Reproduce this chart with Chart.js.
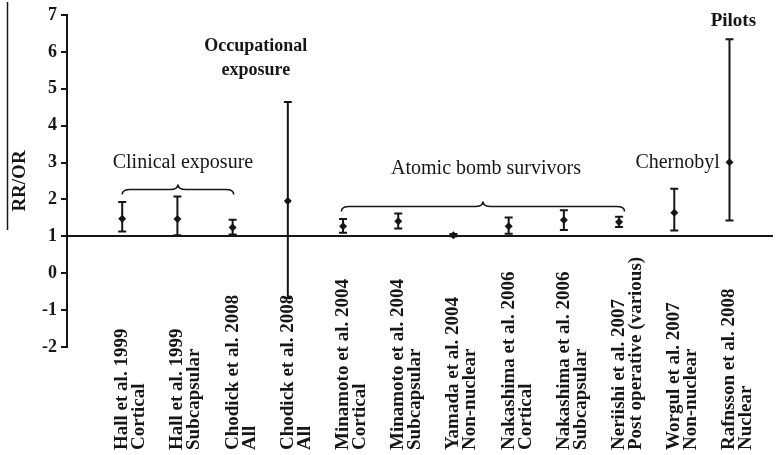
<!DOCTYPE html>
<html>
<head>
<meta charset="utf-8">
<script src="https://cdn.jsdelivr.net/npm/chart.js@4/dist/chart.umd.min.js"></script>
<style>
  body { margin: 0; background: #fff; }
</style>
</head>
<body>
<canvas id="grafico" width="776" height="455"></canvas>
<script>
// dados
const estudos = ["Hall et al. 1999", "Hall et al. 1999", "Chodick et al. 2008", "Chodick et al. 2008",
  "Minamoto et al. 2004", "Minamoto et al. 2004", "Yamada et al. 2004", "Nakashima et al. 2006",
  "Nakashima et al. 2006", "Neriishi et al. 2007", "Worgul et al. 2007", "Rafnsson et al. 2008"];
const tipos = ["Cortical", "Subcapsular", "All", "All", "Cortical", "Subcapsular", "Non-nuclear",
  "Cortical", "Subcapsular", "Post operative (various)", "Non-nuclear", "Nuclear"];
const estimativa = [1.48, 1.47, 1.24, 1.96, 1.27, 1.41, 1.03, 1.27, 1.44, 1.39, 1.64, 3.01];
const inferior = [1.13, 1.03, 1.05, -0.68, 1.10, 1.21, 1.00, 1.07, 1.17, 1.25, 1.16, 1.43];
const superior = [1.93, 2.08, 1.45, 4.64, 1.47, 1.62, 1.06, 1.51, 1.71, 1.53, 2.29, 6.34];
const grupos = ["Clinical exposure", "Occupational exposure", "Atomic bomb survivors", "Chernobyl", "Pilots"];

const cor = "#161616";
const fonte = "'Liberation Serif', 'Times New Roman', serif";

// posicoes das anotacoes (em unidades do grafico)
const anotacoes = [
  { linhas: [grupos[0]], x: 2.1, y: 3.0, bold: false, size: 20 },
  { linhas: ["Occupational", "exposure"], x: 3.42, y: 6.15, bold: true, size: 18 },
  { linhas: [grupos[2]], x: 7.59, y: 2.82, bold: false, size: 20 },
  { linhas: [grupos[3]], x: 11.06, y: 3.0, bold: false, size: 20 },
  { linhas: [grupos[4]], x: 12.07, y: 6.83, bold: true, size: 19 }
];
const chaves = [
  { x1: 1.0, x2: 3.02, y: 2.27 },
  { x1: 4.97, x2: 10.1, y: 1.81 }
];

function desenharChave(ctx, x1, x2, y, h) {
  const xm = (x1 + x2) / 2;
  ctx.beginPath();
  ctx.moveTo(x1, y + h);
  ctx.quadraticCurveTo(x1, y, x1 + h * 1.6, y);
  ctx.lineTo(xm - h * 1.6, y);
  ctx.quadraticCurveTo(xm, y, xm, y - h);
  ctx.quadraticCurveTo(xm, y, xm + h * 1.6, y);
  ctx.lineTo(x2 - h * 1.6, y);
  ctx.quadraticCurveTo(x2, y, x2, y + h);
  ctx.stroke();
}

const extras = {
  id: "extras",
  beforeDatasetsDraw(chart) {
    const ctx = chart.ctx;
    const sx = chart.scales.x, sy = chart.scales.y;
    ctx.save();
    ctx.strokeStyle = cor;
    ctx.lineWidth = 2;
    for (let i = 0; i < estimativa.length; i++) {
      const x = sx.getPixelForValue(i + 1);
      const yl = sy.getPixelForValue(inferior[i]);
      const yu = sy.getPixelForValue(superior[i]);
      ctx.beginPath();
      ctx.moveTo(x, yl); ctx.lineTo(x, yu);
      ctx.moveTo(x - 4, yl); ctx.lineTo(x + 4, yl);
      ctx.moveTo(x - 4, yu); ctx.lineTo(x + 4, yu);
      ctx.stroke();
    }
    ctx.restore();
  },
  afterDraw(chart) {
    const ctx = chart.ctx;
    const sx = chart.scales.x, sy = chart.scales.y;
    ctx.save();
    ctx.fillStyle = cor;
    ctx.strokeStyle = cor;

    // rotulos das categorias
    ctx.font = "bold 19px " + fonte;
    ctx.textAlign = "left";
    ctx.textBaseline = "middle";
    for (let i = 0; i < estudos.length; i++) {
      const x = sx.getPixelForValue(i + 1);
      ctx.save();
      ctx.translate(x, 450);
      ctx.rotate(-Math.PI / 2);
      ctx.fillText(estudos[i], 0, 0);
      ctx.fillText(tipos[i], 0, 17);
      ctx.restore();
    }

    // chaves
    ctx.lineWidth = 1.6;
    chaves.forEach(c => {
      desenharChave(ctx, sx.getPixelForValue(c.x1), sx.getPixelForValue(c.x2), sy.getPixelForValue(c.y), 5);
    });

    // textos dos grupos
    ctx.textAlign = "center";
    anotacoes.forEach(a => {
      ctx.font = (a.bold ? "bold " : "") + a.size + "px " + fonte;
      const x = sx.getPixelForValue(a.x);
      const y = sy.getPixelForValue(a.y);
      a.linhas.forEach((l, k) => ctx.fillText(l, x, y + k * 24));
    });

    // linha a esquerda do titulo
    ctx.lineWidth = 1.5;
    ctx.beginPath();
    ctx.moveTo(7.5, 2);
    ctx.lineTo(7.5, 230);
    ctx.stroke();
    ctx.restore();
  }
};

new Chart(document.getElementById("grafico").getContext("2d"), {
  type: "scatter",
  data: {
    datasets: [{
      data: estimativa.map((v, i) => ({ x: i + 1, y: v })),
      pointStyle: "rectRot",
      pointRadius: 4,
      backgroundColor: cor,
      borderWidth: 0
    }]
  },
  options: {
    responsive: false,
    devicePixelRatio: 1,
    animation: false,
    layout: { padding: { top: 15, bottom: 108, left: 0, right: 0 } },
    plugins: { legend: { display: false }, tooltip: { enabled: false } },
    scales: {
      x: {
        type: "linear",
        min: 0,
        max: 12.77,
        position: { y: 1 },
        grid: { display: false },
        ticks: { display: false },
        border: { display: true, color: cor, width: 2 }
      },
      y: {
        min: -2,
        max: 7,
        ticks: { stepSize: 1, color: cor, padding: 4, font: { family: fonte, size: 18, weight: "bold" } },
        grid: { display: true, drawOnChartArea: false, drawTicks: true, tickLength: 6, color: cor, lineWidth: 2 },
        border: { color: cor, width: 2 },
        title: { display: true, text: "RR/OR", color: cor, padding: { top: 9, bottom: 0 }, font: { family: fonte, size: 19, weight: "bold" } },
        afterFit: s => { s.width = 67; }
      }
    }
  },
  plugins: [extras]
});
</script>
</body>
</html>
